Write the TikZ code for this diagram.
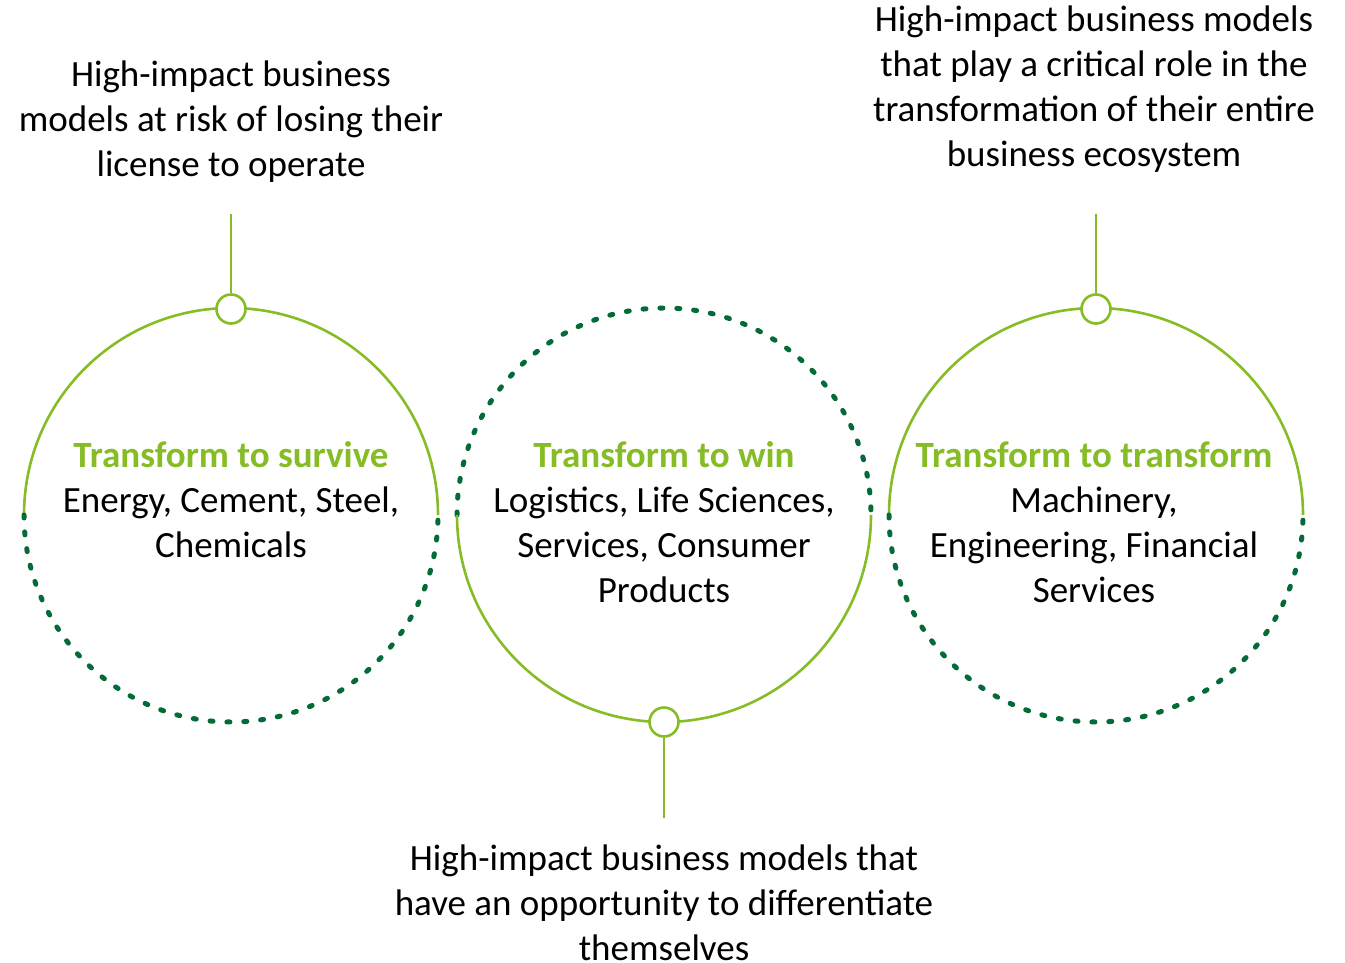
\documentclass[tikz,border=0pt]{standalone}
\usepackage{fontspec}
\setmainfont{Carlito}
\definecolor{lgreen}{HTML}{86BC25}
\definecolor{dgreen}{HTML}{046A38}
\begin{document}
\begin{tikzpicture}[x=1pt,y=1pt,
  solidarc/.style={draw=lgreen,line width=2.6pt},
  dotarc/.style={draw=dgreen,line width=5pt,line cap=round,dash pattern=on 3pt off 13.9pt},
  knob/.style={circle,draw=lgreen,line width=2.6pt,fill=white,minimum size=29pt,inner sep=0pt},
  stem/.style={draw=lgreen,line width=2.6pt},
  txt/.style={align=center,font=\fontsize{37}{45}\selectfont,inner sep=0pt},
  ttl/.style={font=\bfseries,text=lgreen}
]
\useasboundingbox (0,0) rectangle (1345,-962);
% left circle
\draw[solidarc] (24,-515) arc[start angle=180,end angle=0,radius=207];
\draw[dotarc] (24,-515) arc[start angle=180,end angle=360,radius=207];
% middle circle
\draw[dotarc] (457,-515) arc[start angle=180,end angle=0,radius=207];
\draw[solidarc] (457,-515) arc[start angle=180,end angle=360,radius=207];
% right circle
\draw[solidarc] (889,-515) arc[start angle=180,end angle=0,radius=207];
\draw[dotarc] (889,-515) arc[start angle=180,end angle=360,radius=207];
% knobs and stems
\node[knob] (k1) at (231,-309) {};
\coordinate (s1) at (231,-214);
\draw[stem] (s1) -- (k1);
\node[knob] (k2) at (664,-722) {};
\coordinate (s2) at (664,-818);
\draw[stem] (s2) -- (k2);
\node[knob] (k3) at (1096,-309) {};
\coordinate (s3) at (1096,-214);
\draw[stem] (s3) -- (k3);
% outer labels
\node[txt] (d1) at (231,-122) {High-impact business\\models at risk of losing their\\license to operate};
\node[txt] (d3) at (1094,-89) {High-impact business models\\that play a critical role in the\\transformation of their entire\\business ecosystem};
\node[txt] (d2) at (664,-903) {High-impact business models that\\have an opportunity to differentiate\\themselves};
% inner labels
\node[txt] (c1) at (231,-500) {{\bfseries\color{lgreen}Transform to survive}\\Energy, Cement, Steel,\\Chemicals};
\node[txt] (c2) at (664,-522) {{\bfseries\color{lgreen}Transform to win}\\Logistics, Life Sciences,\\Services, Consumer\\Products};
\node[txt] (c3) at (1094,-522) {{\bfseries\color{lgreen}Transform to transform}\\Machinery,\\Engineering, Financial\\Services};
\end{tikzpicture}
\end{document}
